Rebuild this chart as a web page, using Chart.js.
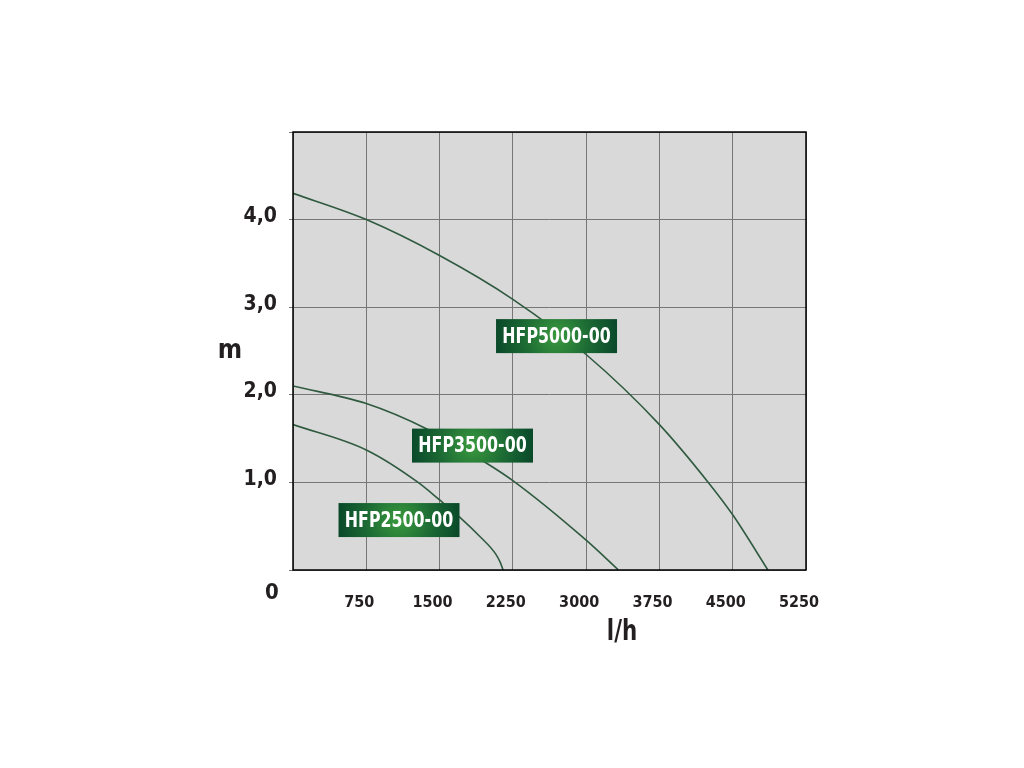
<!DOCTYPE html>
<html>
<head>
<meta charset="utf-8">
<title>HFP pump curves</title>
<script src="https://cdn.jsdelivr.net/npm/chart.js@4/dist/chart.umd.min.js"></script>
<style>
    body { margin: 0; background: #fff; }
    canvas { display: block; }
</style>
</head>
<body>
<canvas id="chart" width="1024" height="768"></canvas>
<script>
// flow (l/h) and head (m)
const seriesNames = ['HFP5000-00', 'HFP3500-00', 'HFP2500-00'];

const flow5000 = [0, 750, 1500, 2250, 3000, 3750, 4250, 4500, 4860];
const head5000 = [4.30, 4.0, 3.59, 3.09, 2.46, 1.66, 1.0, 0.63, 0];

const flow3500 = [0, 750, 1370, 1965, 2250, 3000, 3330];
const head3500 = [2.10, 1.90, 1.61, 1.23, 1.02, 0.34, 0];

const flow2500 = [0, 750, 1280, 1500, 1700, 1915, 2070, 2120, 2150];
const head2500 = [1.66, 1.37, 1.0, 0.80, 0.61, 0.38, 0.19, 0.09, 0];

const xTicks = [0, 750, 1500, 2250, 3000, 3750, 4500, 5250];
const yTicks = [0, 1, 2, 3, 4, 5];

const FONT = "'Liberation Sans Narrow', 'DejaVu Sans Condensed', 'Arial Narrow', sans-serif";
const TEXT = '#231f20';
const LINE = '#2f5a3f';

function toPoints(xs, ys) {
    return xs.map((x, i) => ({x: x, y: ys[i]}));
}

// where the name boxes sit, in data units
const labelSpots = [
    {x: 2697, y: 2.67},
    {x: 1837, y: 1.42},
    {x: 1085, y: 0.57}
];

// draws text squeezed sideways, the original uses a condensed face
function narrowText(ctx, text, x, y, squeeze) {
    ctx.save();
    ctx.translate(x, y);
    ctx.scale(squeeze, 1);
    ctx.fillText(text, 0, 0);
    ctx.restore();
}

const decorPlugin = {
    id: 'decor',
    beforeDraw(chart) {
        const {ctx, chartArea: a} = chart;
        ctx.save();
        ctx.fillStyle = '#d9d9d9';
        ctx.fillRect(a.left, a.top, a.right - a.left, a.bottom - a.top);
        ctx.restore();
    },
    afterDatasetsDraw(chart) {
        const {ctx} = chart;
        const xs = chart.scales.x, ys = chart.scales.y;
        ctx.save();
        ctx.font = 'bold 22px ' + FONT;
        ctx.textAlign = 'center';
        ctx.textBaseline = 'middle';
        seriesNames.forEach((name, i) => {
            const cx = xs.getPixelForValue(labelSpots[i].x);
            const cy = ys.getPixelForValue(labelSpots[i].y);
            const w = 121, h = 34;
            const g = ctx.createRadialGradient(cx, cy, 0, cx, cy, w / 2);
            g.addColorStop(0, '#3a9a3e');
            g.addColorStop(0.55, '#1c6a34');
            g.addColorStop(1, '#0a4a2a');
            ctx.fillStyle = g;
            ctx.fillRect(cx - w / 2, cy - h / 2, w, h);
            ctx.fillStyle = '#ffffff';
            narrowText(ctx, name, cx, cy + 1, 0.8);
        });
        ctx.restore();
    },
    afterDraw(chart) {
        const {ctx, chartArea: a} = chart;
        ctx.save();
        ctx.strokeStyle = '#000';
        ctx.lineWidth = 1.5;
        ctx.strokeRect(a.left, a.top, a.right - a.left, a.bottom - a.top);

        ctx.fillStyle = TEXT;
        ctx.textAlign = 'center';
        ctx.textBaseline = 'middle';
        ctx.font = 'bold 22px ' + FONT;
        ctx.fillText('0', a.left - 21, a.bottom + 23);
        ctx.font = 'bold 26px ' + FONT;
        ctx.fillText('m', a.left - 63, (a.top + a.bottom) / 2);
        ctx.font = 'bold 28px ' + FONT;
        narrowText(ctx, 'l/h', 622, a.bottom + 63, 0.85);
        ctx.restore();
    }
};

new Chart(document.getElementById('chart'), {
    type: 'scatter',
    data: {
        datasets: [
            {label: seriesNames[0], data: toPoints(flow5000, head5000)},
            {label: seriesNames[1], data: toPoints(flow3500, head3500)},
            {label: seriesNames[2], data: toPoints(flow2500, head2500)}
        ].map(d => Object.assign(d, {
            showLine: true,
            borderColor: LINE,
            borderWidth: 1.6,
            pointRadius: 0,
            cubicInterpolationMode: 'monotone'
        }))
    },
    options: {
        responsive: false,
        animation: false,
        layout: {padding: {left: 0, top: 132, right: 218, bottom: 0}},
        plugins: {
            legend: {display: false},
            tooltip: {enabled: false}
        },
        scales: {
            x: {
                type: 'linear',
                min: 0,
                max: 5250,
                afterBuildTicks: axis => { axis.ticks = xTicks.map(v => ({value: v})); },
                afterFit: axis => { axis.height = 198; },
                grid: {color: '#767676', lineWidth: 1, drawTicks: false},
                border: {display: false},
                ticks: {
                    color: TEXT,
                    font: {family: FONT, size: 16, weight: 'bold'},
                    padding: 23,
                    labelOffset: -7,
                    maxRotation: 0,
                    callback: v => v === 0 ? '' : String(v)
                }
            },
            y: {
                type: 'linear',
                min: 0,
                max: 5,
                afterBuildTicks: axis => { axis.ticks = yTicks.map(v => ({value: v})); },
                afterFit: axis => { axis.width = 293; },
                grid: {color: '#767676', lineWidth: 1, tickLength: 4},
                border: {display: false},
                ticks: {
                    color: TEXT,
                    font: {family: FONT, size: 21, weight: 'bold'},
                    padding: 12,
                    labelOffset: -3,
                    callback: v => (v === 0 || v === 5) ? '' : v.toFixed(1).replace('.', ',')
                }
            }
        }
    },
    plugins: [decorPlugin]
});
</script>
</body>
</html>
